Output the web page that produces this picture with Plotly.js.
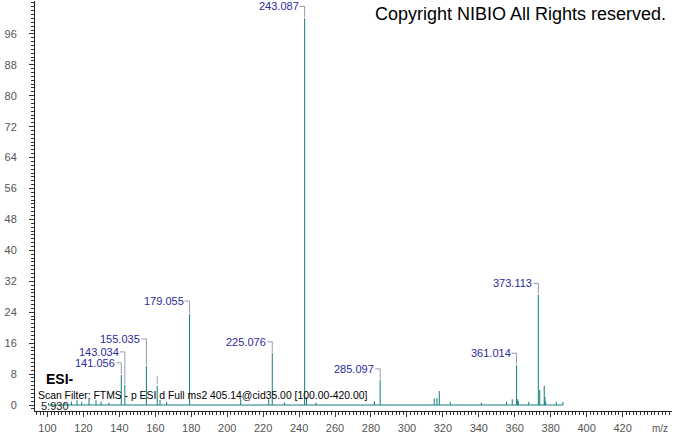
<!DOCTYPE html>
<html><head><meta charset="utf-8">
<script src="https://cdn.plot.ly/plotly-3.0.1.min.js"></script>
<style>html,body{margin:0;padding:0;background:#fff}#chart{width:674px;height:434px}</style>
</head><body><div id="chart"></div>
<script>
// Peak list: m/z and relative intensity (%)
const mz = [100.6, 109.7, 113.3, 116.4, 119.0, 123.1, 127.0, 129.8, 134.2, 141.056, 143.034, 155.035,
  161.04, 162.6, 166.3, 179.055, 207.5, 223.06, 225.076, 231.8, 243.087, 244.09, 249.4, 281.9, 285.097,
  315.2, 316.7, 318.0, 324.1, 341.4, 355.4, 358.6, 361.014, 361.6, 362.0, 367.8, 373.113, 373.9,
  376.4, 376.8, 377.2, 383.1, 386.8];
const intensity = [0.5, 0.6, 0.9, 1.2, 0.8, 1.6, 1.2, 0.9, 0.6, 7.8, 5.2, 10.1,
  5.0, 1.3, 0.8, 23.5, 1.5, 1.5, 13.5, 0.7, 100, 2.0, 0.6, 1.0, 6.5,
  1.7, 1.8, 3.6, 0.8, 0.6, 0.8, 1.5, 10.3, 1.5, 1.0, 0.8, 28.6, 3.9,
  5.0, 2.1, 0.9, 0.8, 0.8];
// Labelled peaks
const labelMz = [141.056, 143.034, 155.035, 179.055, 225.076, 243.087, 285.097, 361.014, 373.113];
const labelText = ['141.056', '143.034', '155.035', '179.055', '225.076', '243.087', '285.097', '361.014', '373.113'];
const labelLift = [12, 33, 27, 13, 11, 12, 11, 12, 11]; // px from peak top to label centre
const stubMz = [161.04];
// Axis tick labels
const xTicks = [100, 120, 140, 160, 180, 200, 220, 240, 260, 280, 300, 320, 340, 360, 380, 400, 420];
const yTicks = [0, 8, 16, 24, 32, 40, 48, 56, 64, 72, 80, 88, 96];

const teal = '#147d80';
const peakX = [], peakY = [];
mz.forEach((m, i) => { peakX.push(m, m, null); peakY.push(0, intensity[i], null); });
function heightAt(m) {
  let best = 0, d = 1e9;
  mz.forEach((v, i) => { const dd = Math.abs(v - m); if (dd < d) { d = dd; best = i; } });
  return intensity[best];
}

const traces = [
  {x: [mz[0], mz[mz.length - 1]], y: [0, 0], type: 'scatter', mode: 'lines',
   line: {color: teal, width: 1}, hoverinfo: 'skip', showlegend: false},
  {x: peakX, y: peakY, type: 'scatter', mode: 'lines',
   line: {color: teal, width: 1}, hoverinfo: 'skip', showlegend: false, connectgaps: false}
];

const labelFont = {family: 'Liberation Sans, Arial, sans-serif', size: 11, color: '#2b2b9a'};
const annotations = labelMz.map((m, i) => ({
  x: m, y: heightAt(m), xref: 'x', yref: 'y', text: labelText[i], showarrow: false,
  xanchor: 'right', yanchor: 'middle', xshift: -5, yshift: labelLift[i], font: labelFont, borderpad: 0
}));
const shapes = labelMz.map((m, i) => ({
  type: 'path', xref: 'x', yref: 'y', xsizemode: 'pixel', ysizemode: 'pixel',
  xanchor: m, yanchor: heightAt(m),
  path: `M -5,${labelLift[i]} L 0,${labelLift[i]} L 0,1`,
  line: {color: '#9a9ab8', width: 1}
}));
stubMz.forEach(m => shapes.push({
  type: 'line', xref: 'x', yref: 'y', xsizemode: 'pixel', ysizemode: 'pixel',
  xanchor: m, yanchor: heightAt(m), x0: 0, x1: 0, y0: 2, y1: 10,
  line: {color: '#9a9ab8', width: 1}
}));

const txt = {family: 'Liberation Sans, Arial, sans-serif'};
annotations.push(
  {xref: 'paper', yref: 'paper', x: 0.9937, y: 0.968, xanchor: 'right', yanchor: 'middle', showarrow: false,
   text: 'Copyright NIBIO All Rights reserved.', font: Object.assign({size: 18, color: '#000'}, txt)},
  {xref: 'paper', yref: 'paper', x: 0.014, y: 0.077, xanchor: 'left', yanchor: 'middle', showarrow: false,
   text: '<b>ESI-</b>', font: Object.assign({size: 14, color: '#000'}, txt)},
  {xref: 'paper', yref: 'paper', x: 0.002, y: 0.037, xanchor: 'left', yanchor: 'middle', showarrow: false,
   text: 'Scan Filter: FTMS - p ESI d Full ms2 405.14@cid35.00 [100.00-420.00]', font: Object.assign({size: 10.4, color: '#000'}, txt)},
  {xref: 'paper', yref: 'paper', x: 0.007, y: 0.013, xanchor: 'left', yanchor: 'middle', showarrow: false,
   text: '5.930', font: Object.assign({size: 11, color: '#222'}, txt)},
  {xref: 'paper', yref: 'paper', x: 0.981, y: -0.042, xanchor: 'center', yanchor: 'middle', showarrow: false,
   text: 'm/z', font: Object.assign({size: 10, color: '#555'}, txt)}
);

const axisCommon = {
  showgrid: false, zeroline: false, showline: true, linecolor: '#222', linewidth: 1,
  ticks: 'outside', ticklen: 5, tickcolor: '#333', tickwidth: 1,
  tickfont: {family: 'Liberation Sans, Arial, sans-serif', size: 11, color: '#555'},
  fixedrange: true, tickmode: 'array'
};
const layout = {
  width: 674, height: 434,
  margin: {l: 35, r: 2, t: 1, b: 23, pad: 0},
  paper_bgcolor: '#fff', plot_bgcolor: '#fff',
  showlegend: false, hovermode: false,
  xaxis: Object.assign({}, axisCommon, {range: [93.04, 447.5], tickvals: xTicks, ticktext: xTicks.map(String),
    ticklabelstandoff: 2,
    minor: {tickmode: 'linear', tick0: 0, dtick: 2, ticks: 'outside', ticklen: 3, tickcolor: '#333'}}),
  yaxis: Object.assign({}, axisCommon, {range: [-1.55, 104.5], tickvals: yTicks, ticktext: yTicks.map(String),
    ticklabelstandoff: 10,
    minor: {tickmode: 'linear', tick0: 0, dtick: 1, ticks: 'outside', ticklen: 3, tickcolor: '#333'}}),
  annotations: annotations,
  shapes: shapes
};
Plotly.newPlot('chart', traces, layout, {staticPlot: true, displayModeBar: false});
</script>
</body></html>
